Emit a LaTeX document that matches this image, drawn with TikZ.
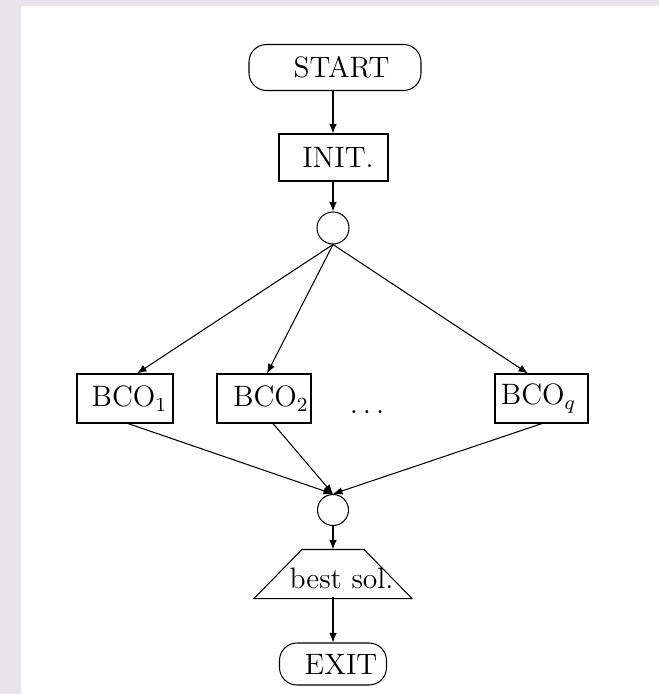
\documentclass[tikz,border=0pt]{standalone}
\usetikzlibrary{arrows.meta}
\definecolor{frame}{HTML}{E8E4EC}
\begin{document}
\begin{tikzpicture}[x=0.4pt,y=-0.4pt,
  every node/.style={font=\fontsize{11.8}{14}\selectfont},
  every path/.style={line width=0.42pt},
  terminal/.style={draw, rectangle, rounded corners=7pt, inner sep=0pt},
  procbox/.style={draw, rectangle, inner sep=0pt, minimum height=19.6pt},
  junction/.style={draw, circle, inner sep=0pt},
  arr/.style={-{Latex[length=3.8pt,width=3pt]}}]

  % page background with a tinted frame on the top and left
  \fill[frame] (0,0) rectangle (659,694);
  \fill[white] (21,6) rectangle (659,694);
  \useasboundingbox (0,0) rectangle (659,694);

  % flowchart nodes
  \node[terminal, minimum width=68.8pt, minimum height=18.4pt,
        label={[xshift=2.6pt]center:START}] (start) at (335,67.5) {};
  \node[procbox, minimum width=43.6pt, minimum height=18.8pt,
        label={[xshift=1.8pt]center:INIT.}] (init) at (333.5,157.5) {};
  \node[junction, minimum size=12.8pt] (fork) at (333,228) {};

  \node[procbox, minimum width=38.4pt,
        label={[xshift=1.8pt]center:BCO$_1$}] (bco1) at (125,398.5) {};
  \node[procbox, minimum width=37.6pt,
        label={[xshift=2.8pt]center:BCO$_2$}] (bco2) at (264,398.5) {};
  \node[anchor=base, inner sep=0pt] (dots) at (367,413) {$\ldots$};
  \node[procbox, minimum width=37.2pt,
        label={[xshift=-1.2pt]center:BCO$_q$}] (bcoq) at (541.5,398.5) {};

  \node[junction, minimum size=12.4pt] (join) at (333,510) {};

  % trapezium: the node is its top edge's box, the slanted sides run out 48 units
  \node[rectangle, inner sep=0pt, minimum width=24.4pt, minimum height=19.2pt,
        label={[xshift=3.4pt, yshift=-1.6pt]center:best sol.}] (best) at (333,574) {};
  \draw (best.north west) -- (best.north east)
        -- ([xshift=19.2pt]best.south east) -- ([xshift=-19.2pt]best.south west) -- cycle;

  \node[terminal, minimum width=42.8pt, minimum height=16.8pt,
        label={[xshift=3.2pt]center:EXIT}] (exit) at (333,664) {};

  % connectors
  \draw[arr] (fork.north |- start.south) -- (fork.north |- init.north);
  \draw[arr] (fork.north |- init.south) -- (fork.north);
  \draw[arr] (fork.south) -- ([xshift=4.8pt]bco1.north);
  \draw[arr] (fork.south) -- ([xshift=1.2pt]bco2.north);
  \draw[arr] (fork.south) -- ([xshift=-5.4pt]bcoq.north);
  \draw[arr] ([xshift=1.2pt]bco1.south) -- (join.north);
  \draw[arr] ([xshift=3.6pt]bco2.south) -- (join.north);
  \draw[arr] ([xshift=0.2pt]bcoq.south) -- (join.north);
  \draw[arr] (join.south) -- (best.north);
  \draw[arr] ([yshift=-19.2pt]best.north) -- (exit.north);
\end{tikzpicture}
\end{document}
